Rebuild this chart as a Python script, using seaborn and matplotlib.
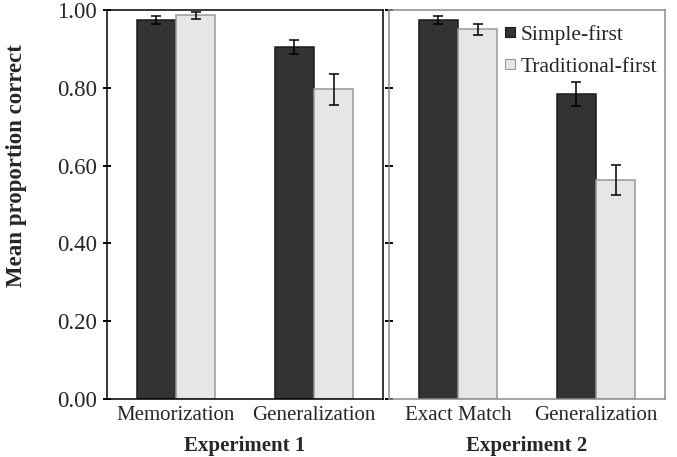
import pandas as pd
import numpy as np
import matplotlib
matplotlib.use('Agg')
import matplotlib.pyplot as plt
import seaborn as sns
from matplotlib.lines import Line2D
from matplotlib.ticker import FormatStrFormatter

# data
conditions = ['Simple-first', 'Traditional-first']
exp1_tasks = ['Memorization', 'Generalization']
exp2_tasks = ['Exact Match', 'Generalization']
exp1_simple = [0.974, 0.905]
exp1_trad = [0.987, 0.796]
exp2_simple = [0.974, 0.784]
exp2_trad = [0.950, 0.563]
exp1_simple_err = [0.010, 0.017]
exp1_trad_err = [0.009, 0.039]
exp2_simple_err = [0.010, 0.030]
exp2_trad_err = [0.014, 0.038]
y_ticks = [0.0, 0.2, 0.4, 0.6, 0.8, 1.0]

sns.set_style('white')
plt.rcParams['font.family'] = ['Liberation Serif', 'DejaVu Serif']

colors = ['#333333', '#e6e6e6']
edges = ['#1a1a1a', '#999999']


def make_df(tasks, simple, trad):
    return pd.DataFrame({
        'task': tasks * 2,
        'condition': [conditions[0]] * len(tasks) + [conditions[1]] * len(tasks),
        'value': list(simple) + list(trad),
    })


fig = plt.figure(figsize=(6.77, 4.57), dpi=100)
ax1 = fig.add_axes([107 / 677, 58 / 457, 276 / 677, 389 / 457])
ax2 = fig.add_axes([389 / 677, 58 / 457, 276 / 677, 389 / 457])

panels = [
    (ax1, exp1_tasks, exp1_simple, exp1_trad, [exp1_simple_err, exp1_trad_err], 'Experiment 1'),
    (ax2, exp2_tasks, exp2_simple, exp2_trad, [exp2_simple_err, exp2_trad_err], 'Experiment 2'),
]

for ax, tasks, simple, trad, errs, title in panels:
    df = make_df(tasks, simple, trad)
    sns.barplot(data=df, x='task', y='value', hue='condition', hue_order=conditions,
                palette=colors, width=0.57, errorbar=None, legend=False, ax=ax)
    for cont, col, ec, err in zip(ax.containers, colors, edges, errs):
        xs, ys = [], []
        for bar in cont:
            bar.set_edgecolor(ec)
            bar.set_linewidth(1.1)
            xs.append(bar.get_x() + bar.get_width() / 2)
            ys.append(bar.get_height())
        ax.errorbar(xs, ys, yerr=err, fmt='none', ecolor='black',
                    elinewidth=1.1, capsize=3.5, capthick=1.1, zorder=5)
    ax.set_xlim(-0.5, 1.5)
    ax.set_ylim(0, 1.0)
    ax.set_yticks(y_ticks)
    ax.set_xlabel(title, fontsize=15, fontweight='bold', labelpad=8)
    ax.set_ylabel('')
    ax.tick_params(axis='x', bottom=False, length=0, labelsize=15, pad=5)
    ax.tick_params(axis='y', left=True, direction='inout', length=6, width=1.4,
                   color='black', labelsize=16.5, pad=4)

ax1.yaxis.set_major_formatter(FormatStrFormatter('%.2f'))
ax1.set_ylabel('Mean proportion correct', fontsize=16.5, fontweight='bold')
ax1.yaxis.set_label_coords(-0.29, 0.60)
for s in ax1.spines.values():
    s.set_color('black')
    s.set_linewidth(1.1)

ax2.set_yticklabels([])
for s in ax2.spines.values():
    s.set_color('#8c8c8c')
    s.set_linewidth(1.1)

handles = [Line2D([], [], marker='s', linestyle='none', markersize=6.5,
                  markerfacecolor=c, markeredgecolor=e, markeredgewidth=0.8)
           for c, e in zip(colors, edges)]
ax2.legend(handles, conditions, loc='upper right', frameon=False, fontsize=15.5,
           handlelength=0.6, handletextpad=0.2, labelspacing=0.55,
           borderaxespad=0.1, bbox_to_anchor=(1.01, 0.99))

fig.savefig('out.png', dpi=100)
